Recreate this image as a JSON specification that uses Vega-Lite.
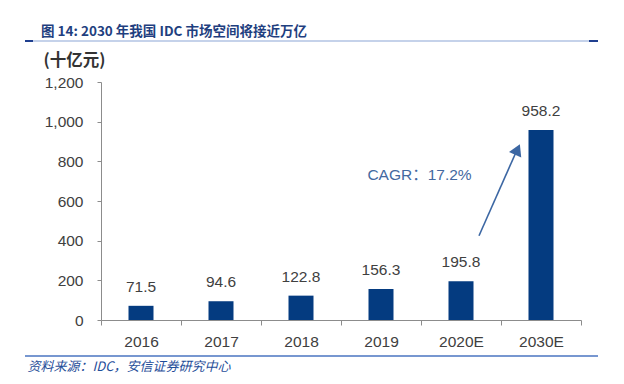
{
  "$schema": "https://vega.github.io/schema/vega-lite/v6.json",
  "width": 480,
  "height": 238,
  "autosize": {"type": "none"},
  "padding": {"left": 101, "top": 82, "right": 43, "bottom": 64},
  "background": "white",
  "config": {
    "view": {"stroke": null},
    "font": "Liberation Sans",
    "axisX": {
      "tickBand": "extent",
      "labelAngle": 0,
      "domainColor": "#8c8c8c",
      "tickColor": "#8c8c8c",
      "tickSize": 5,
      "labelFontSize": 15.5,
      "labelColor": "#404040",
      "labelPadding": 9,
      "labelFont": "Liberation Sans",
      "titleX": -74,
      "titleY": 46,
      "titleAlign": "left",
      "titleAnchor": "start",
      "titleBaseline": "middle",
      "titleFont": "Noto Sans CJK SC",
      "titleFontStyle": "italic",
      "titleFontWeight": "normal",
      "titleFontSize": 13,
      "titleColor": "#1f4e99"
    },
    "axisY": {
      "tickCount": 7,
      "labelOverlap": false,
      "grid": false,
      "domainColor": "#8c8c8c",
      "tickColor": "#8c8c8c",
      "tickSize": 4,
      "labelPadding": 14,
      "labelFontSize": 15.5,
      "labelColor": "#404040",
      "labelFont": "Liberation Sans",
      "titleAngle": 0,
      "titleX": -58,
      "titleY": -22,
      "titleAlign": "left",
      "titleBaseline": "middle",
      "titleFont": "Noto Sans CJK SC",
      "titleFontSize": 16.5,
      "titleFontWeight": "bold",
      "titleColor": "#333333"
    }
  },
  "title": {
    "text": "图 14: 2030 年我国 IDC 市场空间将接近万亿",
    "anchor": "start",
    "frame": "group",
    "dx": -60,
    "offset": 2,
    "font": "Noto Sans CJK SC",
    "fontSize": 13.5,
    "fontWeight": "bold",
    "color": "#1f3f7f"
  },
  "data": {
    "values": [
      {"year": "2016", "value": 71.5},
      {"year": "2017", "value": 94.6},
      {"year": "2018", "value": 122.8},
      {"year": "2019", "value": 156.3},
      {"year": "2020E", "value": 195.8},
      {"year": "2030E", "value": 958.2}
    ]
  },
  "layer": [
    {
      "mark": {"type": "bar", "color": "#043b80", "width": {"band": 0.3125}},
      "encoding": {
        "x": {
          "field": "year",
          "type": "ordinal",
          "sort": null,
          "scale": {"domain": ["2016", "2017", "2018", "2019", "2020E", "2030E"], "paddingInner": 0, "paddingOuter": 0},
          "axis": {"title": "资料来源：IDC，安信证券研究中心"}
        },
        "y": {
          "field": "value",
          "type": "quantitative",
          "scale": {"domain": [0, 1200], "nice": false, "zero": true},
          "axis": {"title": "(十亿元)", "labelExpr": "format(datum.value, ',')"}
        }
      }
    },
    {
      "mark": {"type": "text", "baseline": "alphabetic", "dy": -14, "fontSize": 15.5, "color": "#404040", "font": "Liberation Sans"},
      "encoding": {
        "x": {"field": "year", "type": "ordinal"},
        "y": {"field": "value", "type": "quantitative"},
        "text": {"field": "value", "type": "quantitative", "format": ".1f"}
      }
    },
    {
      "data": {"values": [{}]},
      "mark": {"type": "rule", "color": "#3c67a3", "strokeWidth": 1.6, "xOffset": 18, "x2Offset": -24},
      "encoding": {
        "x": {"datum": "2020E", "type": "ordinal"},
        "x2": {"datum": "2030E"},
        "y": {"datum": 425, "type": "quantitative"},
        "y2": {"datum": 857}
      }
    },
    {
      "data": {"values": [{}]},
      "mark": {"type": "point", "shape": "triangle-up", "filled": true, "opacity": 1, "size": 180, "angle": 24, "color": "#3c67a3", "xOffset": -23.5},
      "encoding": {
        "x": {"datum": "2030E", "type": "ordinal"},
        "y": {"datum": 860, "type": "quantitative"}
      }
    },
    {
      "data": {"values": [{"label": "CAGR：17.2%"}]},
      "mark": {"type": "text", "align": "center", "baseline": "middle", "fontSize": 15.5, "color": "#44699f", "font": "Liberation Sans, Noto Sans CJK SC", "xOffset": -41.5},
      "encoding": {
        "x": {"datum": "2020E", "type": "ordinal"},
        "y": {"datum": 731, "type": "quantitative"},
        "text": {"field": "label"}
      }
    },
    {
      "data": {"values": [{}]},
      "mark": {"type": "rule", "color": "#c5d2ea", "strokeWidth": 2, "xOffset": -116, "x2Offset": 57},
      "encoding": {
        "x": {"datum": "2016", "type": "ordinal"},
        "x2": {"datum": "2030E"},
        "y": {"datum": 1406.7, "type": "quantitative"}
      }
    },
    {
      "data": {"values": [{}]},
      "mark": {"type": "rule", "color": "#1f3f8f", "strokeWidth": 2, "xOffset": -116, "x2Offset": -108},
      "encoding": {
        "x": {"datum": "2016", "type": "ordinal"},
        "x2": {"datum": "2016"},
        "y": {"datum": 1406.7, "type": "quantitative"}
      }
    },
    {
      "data": {"values": [{}]},
      "mark": {"type": "rule", "color": "#1f3f8f", "strokeWidth": 2, "xOffset": 48, "x2Offset": 57},
      "encoding": {
        "x": {"datum": "2030E", "type": "ordinal"},
        "x2": {"datum": "2030E"},
        "y": {"datum": 1406.7, "type": "quantitative"}
      }
    },
    {
      "data": {"values": [{}]},
      "mark": {"type": "rule", "color": "#4a74c0", "strokeWidth": 1.5, "xOffset": -116, "x2Offset": 57},
      "encoding": {
        "x": {"datum": "2016", "type": "ordinal"},
        "x2": {"datum": "2030E"},
        "y": {"datum": -181.5, "type": "quantitative"}
      }
    }
  ]
}
